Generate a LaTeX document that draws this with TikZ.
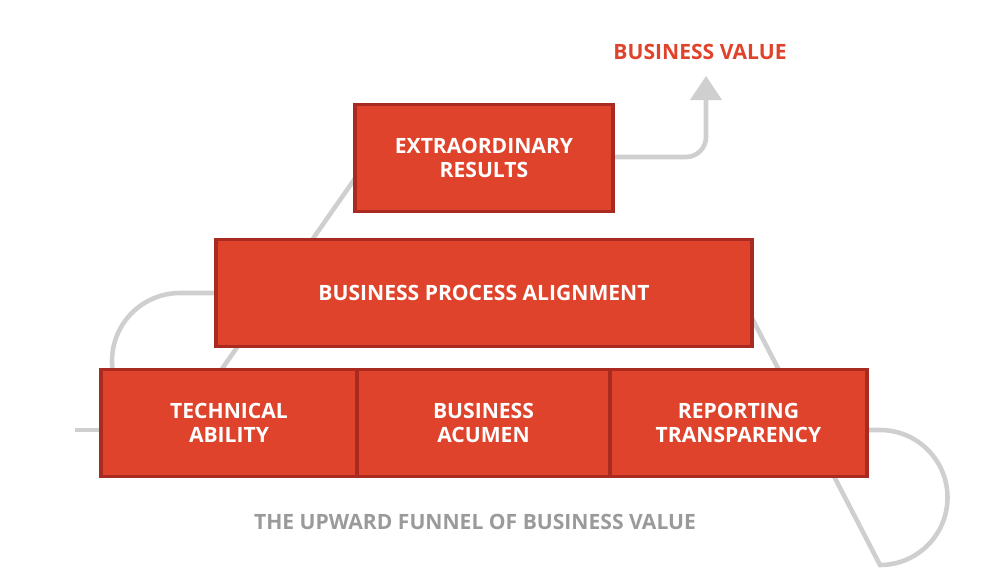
\documentclass[tikz,border=0pt]{standalone}
\usepackage{fontspec}
\setmainfont{Open Sans}
\usetikzlibrary{arrows.meta}
\definecolor{brickred}{HTML}{E0432B}
\definecolor{brickedge}{HTML}{A82A20}
\definecolor{pathgray}{HTML}{CFCFCF}
\definecolor{captiongray}{HTML}{9A9A9A}
\begin{document}
\begin{tikzpicture}[x=0.02cm,y=-0.02cm]
        % styles %
        \tikzstyle{brick} = [draw=brickedge,fill=brickred,line width=2.2pt,text=white,font=\bfseries\large,align=center,inner sep=0pt];
        \tikzstyle{flow} = [draw=pathgray,line width=2.6pt];
        \useasboundingbox (0,0) rectangle (1000,579);

        % path %
        \coordinate (start) at (75,430);
        \coordinate (goal) at (706,76);
        \draw[flow] (start) -- (110,430);
        \draw[flow] (860,430) -- (880,430) arc[start angle=-90,end angle=90,radius=67.5] -- (740,295);
        \draw[flow] (230,293) -- (180,293) arc[start angle=270,end angle=90,radius=68] -- (370,157);
        \draw[flow] (600,157) -- (686,157) arc[start angle=90,end angle=0,radius=20] -- (706,100);
        \fill[pathgray] (goal) -- (722,100) -- (690,100) -- cycle;

        % bricks %
        \node[brick,minimum width=258*0.02cm,minimum height=107*0.02cm] (results) at (484,158) {EXTRAORDINARY\\RESULTS};
        \node[brick,minimum width=536*0.02cm,minimum height=107*0.02cm] (process) at (484,293) {BUSINESS PROCESS ALIGNMENT};
        \node[brick,minimum width=256*0.02cm,minimum height=107*0.02cm] (technical) at (229,423) {TECHNICAL\\ABILITY};
        \node[brick,minimum width=253*0.02cm,minimum height=107*0.02cm] (acumen) at (483.5,423) {BUSINESS\\ACUMEN};
        \node[brick,minimum width=257*0.02cm,minimum height=107*0.02cm] (reporting) at (738.5,423) {REPORTING\\TRANSPARENCY};

        % labels %
        \node[text=brickred,font=\bfseries\large] (value) at (700,52) {BUSINESS VALUE};
        \node[text=captiongray,font=\bfseries\large] (caption) at (475,522) {THE UPWARD FUNNEL OF BUSINESS VALUE};
\end{tikzpicture}
\end{document}
